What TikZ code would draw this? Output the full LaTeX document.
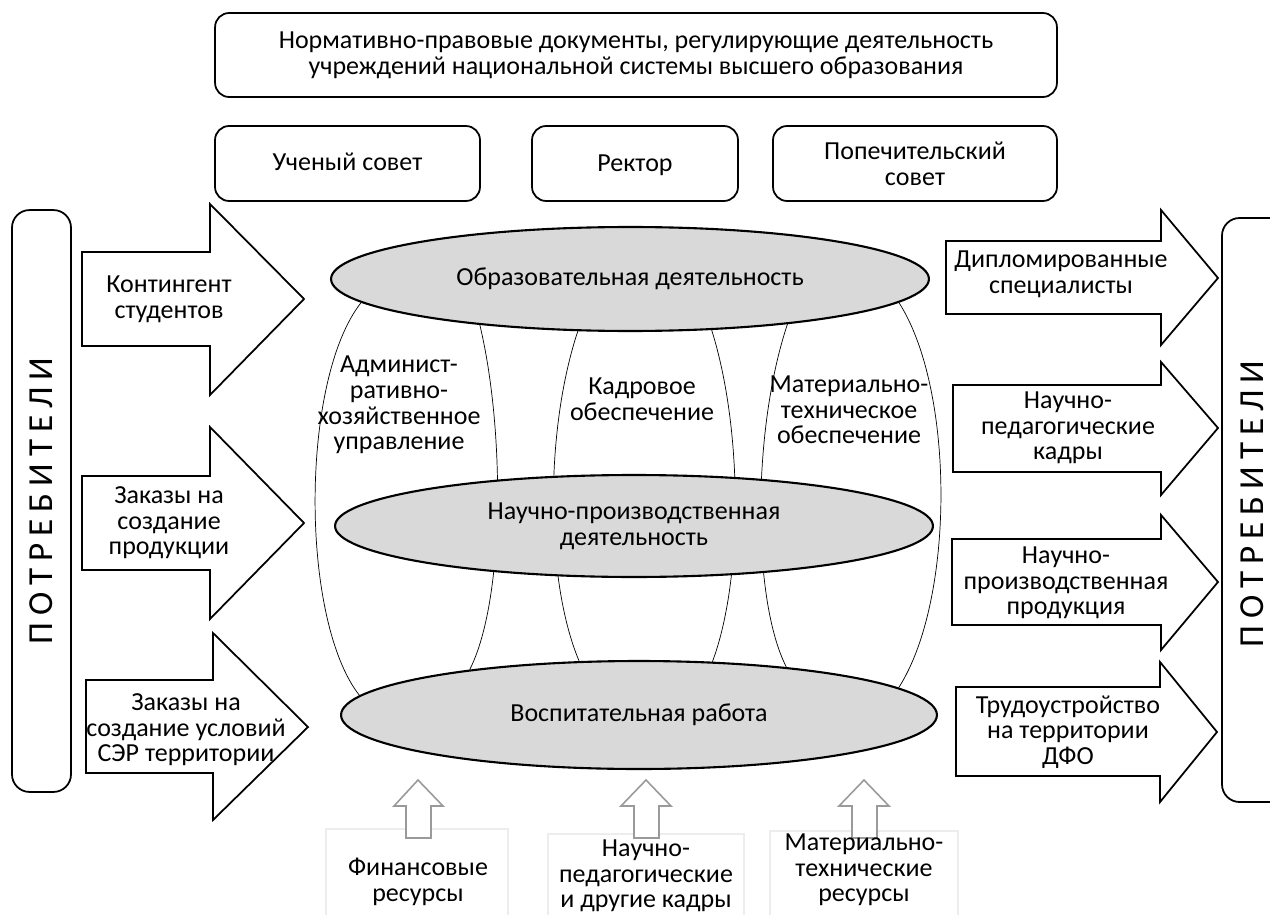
\documentclass[tikz,border=0pt]{standalone}
\usepackage{fontspec}
\setmainfont{Carlito}
\usetikzlibrary{shapes.geometric,backgrounds}

\definecolor{actgray}{HTML}{D9D9D9}
\definecolor{upgray}{HTML}{9A9A9A}
\definecolor{resgray}{HTML}{EDEDED}

\begin{document}
\begin{tikzpicture}[x=0.02cm, y=-0.02cm, line width=1pt,
  txt/.style={font=\fontsize{14.8}{14.6}\selectfont, align=center, inner sep=0pt},
  box/.style={draw, rounded corners=8pt, txt},
  act/.style={ellipse, draw, fill=actgray, line width=1.2pt, txt},
  blk/.style={draw, fill=white, line join=miter},
  upar/.style={draw=upgray, fill=white, line width=0.9pt, line join=miter},
  res/.style={draw=resgray, line width=0.6pt},
  potr/.style={font=\fontsize{20}{20}\selectfont\addfontfeatures{LetterSpace=20}, inner sep=0pt}]

\useasboundingbox (0,0) rectangle (1270,915);

% management
\node[box, minimum width=16.84cm, minimum height=1.68cm] (norm) at (636,55)
  {Нормативно-правовые документы, регулирующие деятельность\\учреждений национальной системы высшего образования};
\node[box, minimum width=5.3cm,  minimum height=1.5cm] (sovet)  at (347.5,163.5) {Ученый совет\vphantom{Рр}};
\node[box, minimum width=4.12cm, minimum height=1.5cm] (rektor) at (635,163.5)   {Ректор\vphantom{Й}};
\node[box, minimum width=5.68cm, minimum height=1.5cm] (popech) at (915,163.5)   {Попечительский\\совет};

% consumers
\node[potr, draw, rounded corners=10pt, rotate=90, minimum width=11.64cm, minimum height=1.18cm]
  (potrL) at (41.5,501) {ПОТРЕБИТЕЛИ};
\draw[rounded corners=10pt] (1270,218) -- (1222,218) -- (1222,802) -- (1270,802);
\node[potr, rotate=90] (potrR) at (1252,504) {ПОТРЕБИТЕЛИ};

% inputs
\draw[blk] (82,252) -- (210,252) -- (210,204) -- (304,299) -- (210,395) -- (210,346) -- (82,346) -- cycle;
\draw[blk] (82,476) -- (210,476) -- (210,427) -- (304,523) -- (210,619) -- (210,570) -- (82,570) -- cycle;
\draw[blk] (86,680) -- (213,680) -- (213,633) -- (308,727) -- (213,820) -- (213,773) -- (86,773) -- cycle;
\node[txt] (kont)    at (169,299) {Контингент\\студентов};
\node[txt] (zakprod) at (169,523) {Заказы на\\создание\\продукции};
\node[txt] (zakser)  at (186,730) {Заказы на\\создание условий\\СЭР территории};

% outputs
\draw[blk] (946,241) -- (1161,241) -- (1161,210) -- (1218,278) -- (1161,345) -- (1161,314) -- (946,314) -- cycle;
\draw[blk] (953,385) -- (1161,385) -- (1161,362) -- (1218,428) -- (1161,495) -- (1161,472) -- (953,472) -- cycle;
\draw[blk] (952,539) -- (1161,539) -- (1161,515) -- (1218,582) -- (1161,650) -- (1161,625) -- (952,625) -- cycle;
\draw[blk] (956,687) -- (1160,687) -- (1160,662) -- (1217,732) -- (1160,802) -- (1160,776) -- (956,776) -- cycle;
\node[txt] (diplom) at (1061,274) {Дипломированные\\специалисты};
\node[txt] (kadry)  at (1068,428) {Научно-\\педагогические\\кадры};
\node[txt] (prod)   at (1066,583) {Научно-\\производственная\\продукция};
\node[txt] (trud)   at (1068,732) {Трудоустройство\\на территории\\ДФО};

% activities
\node[act, minimum width=11.96cm, minimum height=2.08cm] (obr)   at (630,279) {Образовательная деятельность};
\node[act, minimum width=11.96cm, minimum height=2.04cm] (nauch) at (634,526) {Научно-производственная\\деятельность};
\node[act, minimum width=11.92cm, minimum height=2.16cm] (vos)   at (639,715) {Воспитательная работа};

\begin{scope}[on background layer]
\draw (obr.-175.7) .. controls (300,380) and (300,620) .. (vos.176.3);
\draw (obr.-163.5) .. controls (505,430) and (505,600) .. (vos.165.6);
\draw (obr.-135)   .. controls (545,430) and (545,580) .. (vos.138.5);
\draw (obr.-32.9)  .. controls (743,430) and (743,580) .. (vos.36.9);
\draw (obr.-16.8)  .. controls (752,430) and (752,600) .. (vos.18.3);
\draw (obr.-5.2)   .. controls (955,390) and (955,600) .. (vos.6.1);
\end{scope}

\node[txt] (admin) at (399,405) {Админист-\\ративно-\\хозяйственное\\управление};
\node[txt] (kadr)  at (642,399) {Кадровое\\обеспечение};
\node[txt] (mat)   at (849,410) {Материально-\\техническое\\обеспечение};

% resources
\draw[res] (326,915) -- (326,829) -- (508,829) -- (508,915);
\draw[res] (548,915) -- (548,834) -- (744,834) -- (744,915);
\draw[res] (770,915) -- (770,831) -- (958,831) -- (958,915);

\draw[upar] (418,780) -- (443,806) -- (431,806) -- (431,838) -- (406,838) -- (406,806) -- (394,806) -- cycle;
\draw[upar] (646,780) -- (671,806) -- (659,806) -- (659,838) -- (634,838) -- (634,806) -- (621,806) -- cycle;
\draw[upar] (864,780) -- (889,806) -- (877,806) -- (877,838) -- (852,838) -- (852,806) -- (839,806) -- cycle;

\node[txt] (fin) at (418,882) {Финансовые\\ресурсы};
\node[txt] (npk) at (646,876) {Научно-\\педагогические\\и другие кадры};
\node[txt] (mtr) at (864,870) {Материально-\\технические\\ресурсы};

\end{tikzpicture}
\end{document}
